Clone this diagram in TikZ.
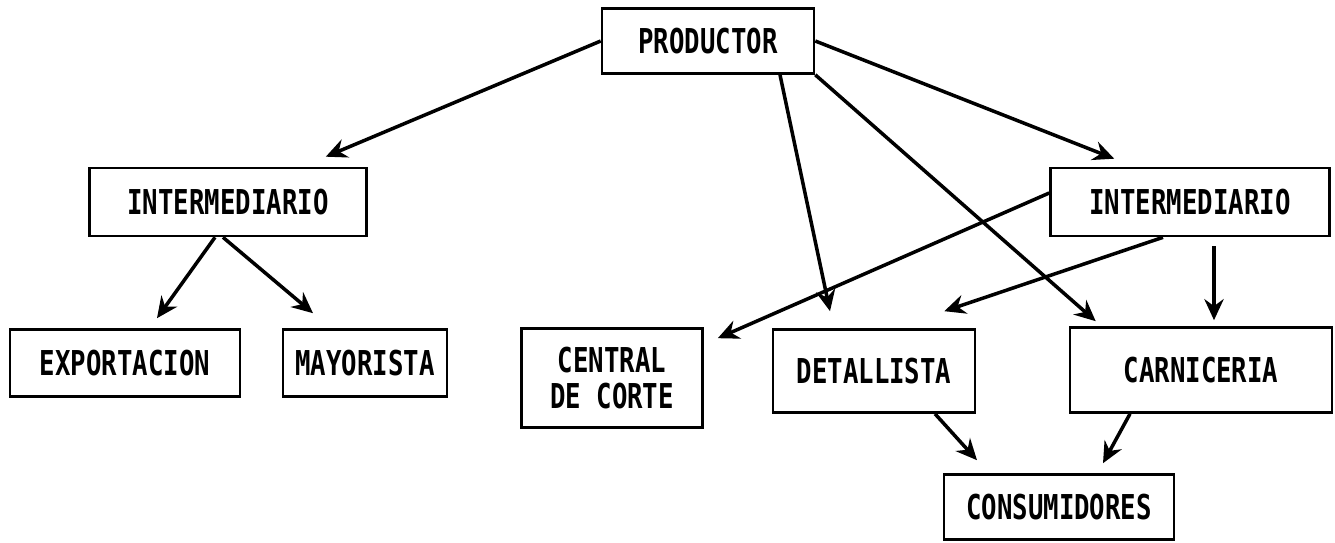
\documentclass[tikz,border=0pt]{standalone}
\usepackage{fontspec}
\usepackage{tikz}
\usetikzlibrary{arrows.meta, positioning}
\newfontfamily\boxfont[FakeStretch=0.75]{DejaVu Sans Mono}

\begin{document}
\begin{tikzpicture}[x=0.02cm, y=-0.02cm,
        box/.style={draw, line width=1.5pt, align=center, inner sep=2pt,
            font=\boxfont\bfseries\fontsize{19.5}{20}\selectfont},
        arr/.style={line width=2pt, -{Stealth[length=12pt, width=11pt, inset=4pt]}}]
        \useasboundingbox (0, 0) rectangle (1335, 542);

        \node[box, minimum width=4.24cm, minimum height=1.30cm] (prod) at (708, 41) {PRODUCTOR};
        \node[box, minimum width=5.54cm, minimum height=1.36cm] (interL) at (228, 202) {INTERMEDIARIO};
        \node[box, minimum width=5.58cm, minimum height=1.36cm] (interR) at (1190, 202) {INTERMEDIARIO};
        \node[box, minimum width=4.60cm, minimum height=1.34cm] (export) at (125, 363) {EXPORTACION};
        \node[box, minimum width=3.28cm, minimum height=1.34cm] (mayor) at (365, 363) {MAYORISTA};
        \node[box, minimum width=3.62cm, minimum height=1.98cm] (central) at (612, 378) {CENTRAL\\DE CORTE};
        \node[box, minimum width=4.04cm, minimum height=1.66cm] (detal) at (874, 371) {DETALLISTA};
        \node[box, minimum width=5.24cm, minimum height=1.70cm] (carn) at (1201, 370) {CARNICERIA};
        \node[box, minimum width=4.60cm, minimum height=1.30cm] (consum) at (1059, 507) {CONSUMIDORES};

        \draw[arr] (prod.west) to ([shift={(-42,-10)}]interL.north east);
        \draw[arr] (prod.east) to ([shift={(65,-8)}]interR.north west);
        \draw[arr] ([shift={(72,0)}]prod.south) to ([shift={(-44,-17)}]detal.north);
        \draw[arr] (prod.south east) to ([shift={(27,-5)}]carn.north west);

        \draw[arr] ([shift={(0,-9)}]interR.west) to ([shift={(14,11)}]central.north east);
        \draw[arr] ([shift={(-27,0)}]interR.south) to ([shift={(-32,-17)}]detal.north east);
        \draw[arr] ([shift={(24,9)}]interR.south) to ([shift={(13,-6)}]carn.north);

        \draw[arr] ([shift={(-13,0)}]interL.south) to ([shift={(32,-10)}]export.north);
        \draw[arr] ([shift={(-5,0)}]interL.south) to ([shift={(-52,-15)}]mayor.north);

        \draw[arr] ([shift={(61,0)}]detal.south) to ([shift={(-82,-13)}]consum.north);
        \draw[arr] ([shift={(-71,0)}]carn.south) to ([shift={(44,-10)}]consum.north);
    \end{tikzpicture}
\end{document}
